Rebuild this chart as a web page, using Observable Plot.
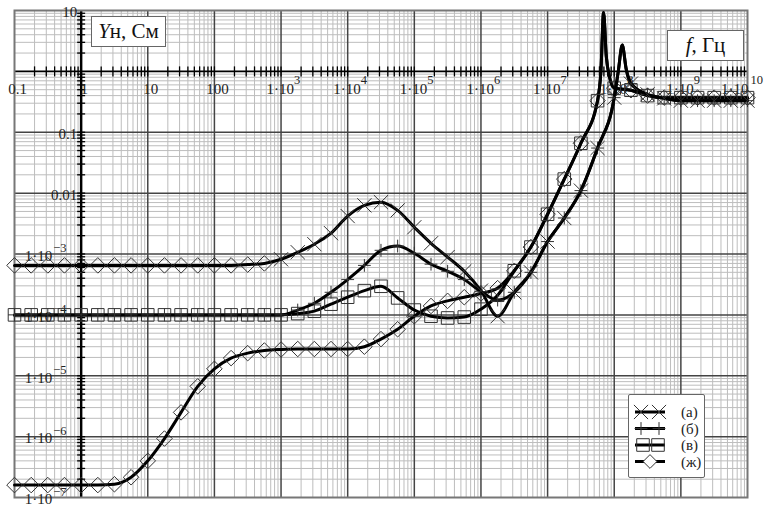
<!DOCTYPE html>
<html><head><meta charset="utf-8">
<script src="https://cdn.jsdelivr.net/npm/d3@7"></script>
<script src="https://cdn.jsdelivr.net/npm/@observablehq/plot@0.6"></script>
<style>
body{margin:0;background:#fff;}
#wrap{position:relative;width:770px;height:512px;font-family:"Liberation Serif","Times New Roman",serif;}
#wrap svg text{font-family:"Liberation Serif","Times New Roman",serif;}
.box{position:absolute;background:#fff;border:1.5px solid #666;font-size:21px;display:flex;align-items:center;justify-content:center;box-sizing:border-box;color:#111;}
#legend{position:absolute;left:628px;top:394px;width:77px;height:84px;background:#fff;border:1.5px solid #666;border-radius:2px;box-sizing:border-box;}
</style></head><body><div id="wrap"></div>
<script>
// Frequencies (Hz) at which values are read (quarter-decade grid)
const freq = [0.1,0.178,0.316,0.562,1,1.78,3.16,5.62,10,17.8,31.6,56.2,100,178,316,562,
  1e3,1.78e3,3.16e3,5.62e3,1e4,1.78e4,3.16e4,5.62e4,1e5,1.78e5,3.16e5,5.62e5,
  1e6,1.78e6,3.16e6,5.62e6,1e7,1.78e7,3.16e7,5.62e7,1e8,1.78e8,3.16e8,5.62e8,
  1e9,1.78e9,3.16e9,5.62e9,1e10];

// Series (а)
const seriesA = [6.5e-4,6.5e-4,6.5e-4,6.5e-4,6.5e-4,6.5e-4,6.5e-4,6.5e-4,6.5e-4,6.5e-4,6.5e-4,6.5e-4,6.5e-4,6.5e-4,
  6.7e-4,7.0e-4,8.2e-4,1.07e-3,1.45e-3,2.2e-3,4.2e-3,6.3e-3,7.1e-3,5.2e-3,2.75e-3,1.5e-3,8.9e-4,5.2e-4,
  2.5e-4,9.5e-5,2.35e-4,5.0e-4,1.6e-3,3.9e-3,0.011,0.055,0.37,0.63,0.42,0.36,0.33,0.33,0.33,0.33,0.33];
// Series (б)
const seriesB = [1e-4,1e-4,1e-4,1e-4,1e-4,1e-4,1e-4,1e-4,1e-4,1e-4,1e-4,1e-4,1e-4,1e-4,1e-4,1e-4,1e-4,
  1.2e-4,1.55e-4,2.35e-4,3.8e-4,6.5e-4,1.15e-3,1.35e-3,1.03e-3,6.8e-4,5.2e-4,3.8e-4,2.4e-4,1.75e-4,2.35e-4,
  5.0e-4,1.6e-3,3.9e-3,0.011,0.055,0.37,0.63,0.42,0.36,0.33,0.33,0.33,0.33,0.33];
// Series (в)
const seriesV = [1e-4,1e-4,1e-4,1e-4,1e-4,1e-4,1e-4,1e-4,1e-4,1e-4,1e-4,1e-4,1e-4,1e-4,1e-4,1e-4,1e-4,
  1.05e-4,1.15e-4,1.5e-4,1.95e-4,2.5e-4,2.95e-4,1.9e-4,1.2e-4,9.5e-5,8.9e-5,9.2e-5,1.24e-4,2.1e-4,5.3e-4,
  1.3e-3,4.5e-3,0.017,0.066,0.33,0.53,0.49,0.40,0.37,0.37,0.37,0.37,0.37,0.37];
// Series (ж)
const seriesZh = [1.6e-7,1.6e-7,1.6e-7,1.6e-7,1.6e-7,1.6e-7,1.65e-7,2.15e-7,4.0e-7,9.3e-7,2.5e-6,6.7e-6,1.3e-5,1.95e-5,
  2.35e-5,2.6e-5,2.7e-5,2.75e-5,2.75e-5,2.75e-5,2.75e-5,3.0e-5,4.0e-5,5.8e-5,9.5e-5,1.4e-4,1.7e-4,1.95e-4,2.25e-4,2.75e-4,5.3e-4,
  1.3e-3,4.5e-3,0.017,0.066,0.33,0.53,0.49,0.40,0.37,0.37,0.37,0.37,0.37,0.37];

// Resonance spikes (extra points on the lines)
const spikeRightF = [1.15e8,1.32e8,1.51e8];
const spikeRightY = [1.0,2.7,1.1];
const spikeLeftF = [6.31e7,6.92e7,7.59e7,8.51e7];
const spikeLeftY = [1.0,9.3,1.8,0.8];

// Axis ticks and labels
const xTicks = [0.1,1,10,100,1e3,1e4,1e5,1e6,1e7,1e8,1e9,1e10];
const xTickBase = ["0.1","1","10","100","1·10","1·10","1·10","1·10","1·10","1·10","1·10","1·10"];
const xTickExp = ["","","","","3","4","5","6","7","8","9","10"];
const yTicks = [10,0.1,0.01,1e-3,1e-4,1e-5,1e-6,1e-7];
const yTickBase = ["10","0.1","0.01","1·10","1·10","1·10","1·10","1·10"];
const yTickExp = ["","","","−3","−4","−5","−6","−7"];
const legendLabels = ["(а)","(б)","(в)","(ж)"];

// ---------- build tables ----------
const pts = (ys) => freq.map((f,i)=>({f, y: ys[i]}));
const withSpike = (ys, sf, sy) => pts(ys).concat(sf.map((f,i)=>({f, y: sy[i]}))).sort((a,b)=>a.f-b.f);
const lineA = withSpike(seriesA, spikeRightF, spikeRightY);
const lineB = withSpike(seriesB, spikeRightF, spikeRightY);
const lineV = withSpike(seriesV, spikeLeftF, spikeLeftY);
const lineZh = withSpike(seriesZh, spikeLeftF, spikeLeftY);

const minorX = [];
d3.range(-1, 10).forEach(e => { for (let k=2;k<=9;k++) minorX.push(k*Math.pow(10,e)); });
const minorY = [];
d3.range(-7, 1).forEach(e => { for (let k=2;k<=9;k++) minorY.push(k*Math.pow(10,e)); });
const majorXg = xTicks.filter(v => v !== 0.1 && v !== 1e10 && v !== 1);
const majorYg = yTicks.filter(v => v !== 10 && v !== 1e-7);

const vline = {draw(ctx, size){ const h=Math.sqrt(size/Math.PI); ctx.moveTo(0,-h); ctx.lineTo(0,h);} };
const hline = {draw(ctx, size){ const h=Math.sqrt(size/Math.PI); ctx.moveTo(-h,0); ctx.lineTo(h,0);} };

const xLab = xTicks.map((v,i)=>({v, base:xTickBase[i], exp:xTickExp[i]}));
const yLab = yTicks.map((v,i)=>({v, base:yTickBase[i], exp:yTickExp[i]}));
const xPlain = xLab.filter(d=>!d.exp);
const xExpMid = xLab.filter(d=>d.exp && d.v < 1e10);
const xExpEnd = xLab.filter(d=>d.v === 1e10);

const labStyle = {fill:"#222", fontSize:15, fontFamily:"Liberation Serif"};
const expStyle = {fill:"#222", fontSize:12.5, fontFamily:"Liberation Serif"};
const mk = {fill:"none", stroke:"#333", strokeWidth:1};
const lineStyle = {stroke:"#000", strokeWidth:3, curve:"monotone-x"};

const chart = Plot.plot({
  width:770, height:512,
  marginLeft:14, marginRight:23, marginTop:10, marginBottom:15,
  x:{type:"log", domain:[0.1,1e10], axis:null},
  y:{type:"log", domain:[1e-7,10], axis:null},
  style:{background:"#fff", overflow:"visible", fontFamily:"Liberation Serif"},
  marks:[
    Plot.ruleX(minorX, {stroke:"#bdbdbd", strokeWidth:1}),
    Plot.ruleY(minorY, {stroke:"#bdbdbd", strokeWidth:1}),
    Plot.ruleX(majorXg, {stroke:"#444", strokeWidth:1.5}),
    Plot.ruleY(majorYg, {stroke:"#444", strokeWidth:1.5}),
    Plot.ruleX([1], {stroke:"#000", strokeWidth:2.5}),
    Plot.ruleY([1], {stroke:"#000", strokeWidth:1.6}),
    Plot.dot(minorX.concat(majorXg), {x:d=>d, y:()=>1, symbol:vline, r:5, fill:"none", stroke:"#000", strokeWidth:1.3}),
    Plot.dot(minorY.concat(majorYg), {x:()=>1, y:d=>d, symbol:hline, r:4, fill:"none", stroke:"#000", strokeWidth:1.3}),
    Plot.frame({stroke:"#777", strokeWidth:2}),
    // x labels
    Plot.text(xPlain, {x:"v", y:()=>1, text:"base", dx:3, dy:18, textAnchor:"middle", ...labStyle}),
    Plot.text(xExpMid, {x:"v", y:()=>1, text:"base", dx:13, dy:18, textAnchor:"end", ...labStyle}),
    Plot.text(xExpMid, {x:"v", y:()=>1, text:"exp", dx:13, dy:9, textAnchor:"start", ...expStyle}),
    Plot.text(xExpEnd, {x:"v", y:()=>1, text:"base", dx:1, dy:18, textAnchor:"end", ...labStyle}),
    Plot.text(xExpEnd, {x:"v", y:()=>1, text:"exp", dx:3, dy:9, textAnchor:"start", ...expStyle}),
    // y labels
    Plot.text(yLab.filter(d=>!d.exp), {x:()=>1, y:"v", text:"base", dx:-4, dy:2, textAnchor:"end", ...labStyle}),
    Plot.text(yLab.filter(d=>d.exp), {x:()=>1, y:"v", text:"base", dx:-29, dy:2, textAnchor:"end", ...labStyle}),
    Plot.text(yLab.filter(d=>d.exp), {x:()=>1, y:"v", text:"exp", dx:-28, dy:-6, textAnchor:"start", ...expStyle}),
    // curves
    Plot.line(lineZh, {x:"f", y:"y", ...lineStyle}),
    Plot.dot(pts(seriesZh), {x:"f", y:"y", symbol:"diamond2", r:7, ...mk}),
    Plot.line(lineV, {x:"f", y:"y", ...lineStyle}),
    Plot.dot(pts(seriesV), {x:"f", y:"y", symbol:"square2", r:8, ...mk}),
    Plot.line(lineB, {x:"f", y:"y", ...lineStyle}),
    Plot.dot(pts(seriesB), {x:"f", y:"y", symbol:"plus", r:4.2, ...mk}),
    Plot.line(lineA, {x:"f", y:"y", ...lineStyle}),
    Plot.dot(pts(seriesA).filter(d=>d.f<1e3), {x:"f", y:"y", symbol:"diamond2", r:7, ...mk}),
    Plot.dot(pts(seriesA).filter(d=>d.f>=1e3), {x:"f", y:"y", symbol:"times", r:6.5, ...mk})
  ]
});
const wrap = document.getElementById("wrap");
wrap.appendChild(chart);

// Title boxes
const b1 = document.createElement("div");
b1.className = "box";
b1.style.cssText = "left:91px;top:16px;width:75px;height:31px;";
b1.innerHTML = "<span><i>Y</i>н, См</span>";
wrap.appendChild(b1);
const b2 = document.createElement("div");
b2.className = "box";
b2.style.cssText = "left:667px;top:30px;width:77px;height:31px;";
b2.innerHTML = "<span><i>f</i>, Гц</span>";
wrap.appendChild(b2);

// Legend
const leg = document.createElement("div");
leg.id = "legend";
wrap.appendChild(leg);
const svg = d3.select(leg).append("svg").attr("width",75).attr("height",82);
const legSyms = [
  {type:d3.symbolTimes, size: Math.PI*6.5*6.5, at:[12,30]},
  {type:d3.symbolPlus, size: Math.PI*4.2*4.2, at:[12,30]},
  {type:d3.symbolSquare2, size: Math.PI*8*8, at:[14,29]},
  {type:d3.symbolDiamond2, size: Math.PI*6.2*6.2, at:[21]}
];
legendLabels.forEach((lab,i)=>{
  const y = 17 + i*16.5;
  svg.append("line").attr("x1",6).attr("x2",36).attr("y1",y).attr("y2",y).attr("stroke","#000").attr("stroke-width",3);
  legSyms[i].at.forEach(x=>{
    svg.append("path").attr("d", d3.symbol().type(legSyms[i].type).size(legSyms[i].size)())
      .attr("transform",`translate(${x},${y})`).attr("fill", i===3?"#fff":"none").attr("stroke","#333").attr("stroke-width",1);
  });
  svg.append("text").attr("x",52).attr("y",y+5).attr("font-size",15).attr("font-family","Liberation Serif").attr("fill","#222").text(lab);
});
</script>
</body></html>
